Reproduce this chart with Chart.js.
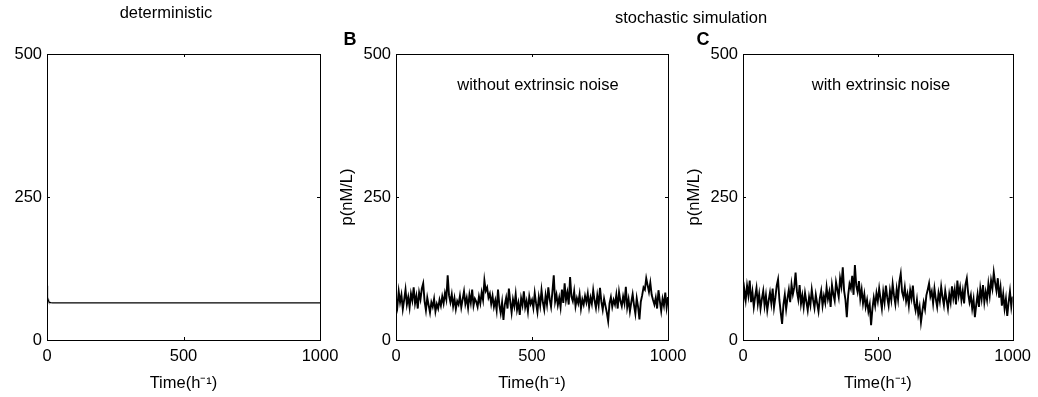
<!DOCTYPE html>
<html>
<head>
<meta charset="utf-8">
<script src="https://cdn.jsdelivr.net/npm/chart.js@4.4.1/dist/chart.umd.min.js"></script>
<style>
  html, body { margin: 0; padding: 0; background: #fff; }
  #wrap { position: relative; width: 1038px; height: 397px; overflow: hidden; font-family: "Liberation Sans", Arial, sans-serif; }
  canvas { position: absolute; left: 0; top: 0; }
  .lbl { position: absolute; white-space: nowrap; color: #000; transform: translate(-50%, -50%); line-height: 1; }
</style>
</head>
<body>
<div id="wrap">
  <canvas id="cA" width="1038" height="397"></canvas>
  <canvas id="cB" width="1038" height="397"></canvas>
  <canvas id="cC" width="1038" height="397"></canvas>
  <div class="lbl" style="left:166px;top:12px;font-size:16.5px;">deterministic</div>
  <div class="lbl" style="left:691px;top:17px;font-size:16.5px;">stochastic simulation</div>
  <div class="lbl" style="left:350px;top:39px;font-size:18px;font-weight:bold;">B</div>
  <div class="lbl" style="left:703px;top:39px;font-size:18px;font-weight:bold;">C</div>
  <div class="lbl" style="left:538px;top:84px;font-size:16.5px;">without extrinsic noise</div>
  <div class="lbl" style="left:881px;top:84px;font-size:16.5px;">with extrinsic noise</div>
</div>
<script>
// ---- data ----
const xTicks = [0, 500, 1000];
const yTicks = [0, 250, 500];

const detTime   = [0, 1, 2, 3, 4, 6, 8, 10, 14, 20, 30, 1000];
const detValues = [95, 88, 81, 75, 71, 68, 66.5, 65.8, 65.3, 65, 65, 65];

// stochastic traces sampled every 5 time units (t = 0..1000)
const stochStep = 5;
const noExtrinsic = [
  72, 58, 85, 66, 79, 54, 70, 88, 62, 75, 57, 81, 69, 92, 64, 77, 55, 83, 71, 90,
  99, 68, 52, 74, 61, 48, 66, 58, 72, 50, 63, 55, 70, 60, 76, 64, 82, 71, 113, 78,
  66, 80, 59, 73, 54, 68, 62, 77, 57, 71, 85, 63, 74, 56, 79, 65, 88, 60, 72, 67,
  58, 76, 64, 83, 70, 104, 86, 92, 74, 81, 63, 77, 58, 69, 52, 88, 61, 47, 66, 35,
  62, 74, 55, 90, 67, 48, 71, 59, 80, 53, 65, 44, 73, 61, 85, 57, 68, 50, 76, 63,
  70, 56, 82, 64, 49, 75, 60, 87, 66, 53, 78, 62, 92, 71, 58, 84, 113, 67, 79, 61,
  74, 57, 88, 65, 99, 70, 83, 62, 110, 76, 68, 85, 59, 73, 64, 80, 55, 71, 62, 77,
  66, 81, 58, 74, 63, 87, 69, 56, 78, 61, 91, 67, 53, 72, 60, 48, 33, 64, 75, 58,
  70, 62, 79, 55, 84, 68, 59, 76, 64, 93, 57, 71, 50, 66, 80, 61, 46, 73, 58, 36,
  67, 78, 92, 88, 108, 96, 84, 100, 79, 70, 62, 74, 55, 87, 68, 51, 72, 60, 83, 57, 75
];
const withExtrinsic = [
  62, 88, 70, 95, 78, 104, 66, 84, 58, 76, 91, 63, 80, 55, 72, 86, 60, 78, 52, 69,
  83, 64, 90, 57, 74, 95, 106, 70, 48, 28, 62, 79, 54, 73, 88, 66, 97, 80, 92, 118,
  85, 71, 96, 63, 78, 58, 82, 67, 52, 75, 61, 88, 70, 56, 79, 64, 50, 73, 86, 60,
  77, 65, 92, 72, 84, 58, 96, 80, 69, 101, 88, 75, 108, 94, 127, 86, 70, 40, 78, 98,
  90, 112, 79, 131, 95, 84, 103, 72, 88, 64, 80, 58, 70, 50, 62, 26, 55, 74, 60, 82,
  68, 90, 72, 55, 84, 66, 95, 74, 60, 86, 70, 98, 78, 63, 89, 71, 102, 116, 84, 75,
  92, 68, 80, 60, 87, 73, 95, 64, 52, 70, 45, 58, 31, 50, 66, 54, 78, 88, 99, 76,
  85, 64, 90, 72, 58, 82, 68, 93, 75, 61, 86, 70, 55, 80, 66, 94, 73, 88, 62, 104,
  78, 92, 70, 86, 64, 97, 108, 82, 66, 78, 55, 71, 40, 62, 80, 58, 90, 72, 96, 66,
  84, 70, 98, 78, 104, 90, 118, 100, 86, 108, 74, 92, 60, 80, 55, 72, 42, 66, 85, 58, 76
];

const xTitle = 'Time(h\u207B\u00B9)';
const yTitle = 'p(nM/L)';

// ---- helpers ----
function toPoints(xs, ys) { return ys.map((v, i) => ({ x: xs[i], y: v })); }
function stochPoints(ys) { return ys.map((v, i) => ({ x: i * stochStep, y: v })); }

const boxPlugin = {
  id: 'box',
  afterDraw(chart) {
    const { ctx, chartArea: a, scales } = chart;
    ctx.save();
    ctx.strokeStyle = '#000';
    ctx.lineWidth = 1;
    ctx.strokeRect(Math.round(a.left) + 0.5, Math.round(a.top) + 0.5,
                   Math.round(a.right - a.left), Math.round(a.bottom - a.top));
    const L = 3;
    ctx.beginPath();
    xTicks.slice(1, -1).forEach(t => {
      const px = Math.round(scales.x.getPixelForValue(t)) + 0.5;
      ctx.moveTo(px, a.bottom); ctx.lineTo(px, a.bottom - L);
      ctx.moveTo(px, a.top); ctx.lineTo(px, a.top + L);
    });
    yTicks.slice(1, -1).forEach(t => {
      const py = Math.round(scales.y.getPixelForValue(t)) + 0.5;
      ctx.moveTo(a.left, py); ctx.lineTo(a.left + L, py);
      ctx.moveTo(a.right, py); ctx.lineTo(a.right - L, py);
    });
    ctx.stroke();
    ctx.restore();
  }
};

const FONT = { family: '"Liberation Sans", Arial, sans-serif', size: 16.5 };
const YW = 60, XH = 53;

function makeChart(id, points, left, right, showYTitle, lw) {
  return new Chart(document.getElementById(id), {
    type: 'line',
    data: { datasets: [{ data: points, borderColor: '#000', borderWidth: lw, pointRadius: 0, fill: false, tension: 0 }] },
    options: {
      responsive: false, animation: false, events: [],
      layout: { padding: { left: left - YW, right: 1038 - right, top: 54, bottom: 397 - 340 - XH } },
      plugins: { legend: { display: false }, tooltip: { enabled: false } },
      scales: {
        x: {
          type: 'linear', min: 0, max: 1000,
          afterBuildTicks: s => { s.ticks = xTicks.map(v => ({ value: v })); },
          afterFit: s => { s.height = XH; },
          grid: { display: false, drawTicks: false }, border: { display: false },
          ticks: { color: '#000', font: FONT, padding: 7, maxRotation: 0, callback: v => String(v) },
          title: { display: true, text: xTitle, color: '#000', font: FONT, padding: { top: 0, bottom: 0 } }
        },
        y: {
          type: 'linear', min: 0, max: 500,
          afterBuildTicks: s => { s.ticks = yTicks.map(v => ({ value: v })); },
          afterFit: s => { s.width = YW; },
          grid: { display: false, drawTicks: false }, border: { display: false },
          ticks: { color: '#000', font: FONT, padding: 5, callback: v => String(v) },
          title: { display: showYTitle, text: yTitle, color: '#000', font: FONT, padding: { top: 2, bottom: 0 } }
        }
      }
    },
    plugins: [boxPlugin]
  });
}

makeChart('cA', toPoints(detTime, detValues), 47, 320, false, 1.2);
makeChart('cB', stochPoints(noExtrinsic), 396, 668, true, 1.9);
makeChart('cC', stochPoints(withExtrinsic), 743, 1016, true, 1.9);
</script>
</body>
</html>
